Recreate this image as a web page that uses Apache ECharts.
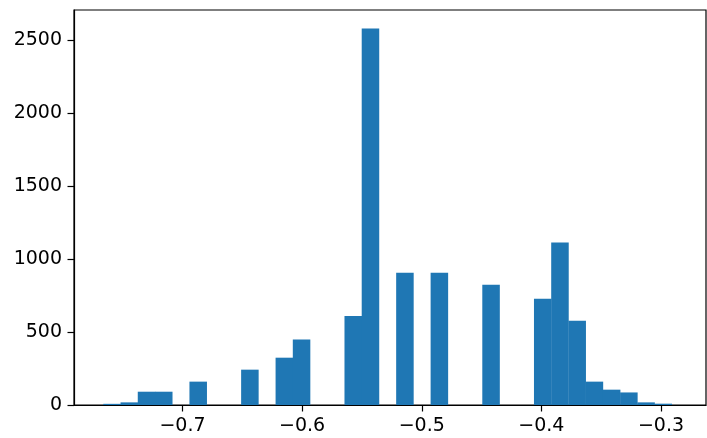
<!DOCTYPE html>
<html>
<head>
<meta charset="utf-8">
<script src="https://cdn.jsdelivr.net/npm/echarts@6/dist/echarts.min.js"></script>
<style>html,body{margin:0;padding:0;background:#fff}#c{width:707px;height:438px}</style>
</head>
<body>
<div id="c"></div>
<script>
// Histogram: 33 equal bins from binStart with width binWidth
const binStart = -0.7662;
const binWidth = 0.0144;
const counts = [8, 18, 91, 91, 0, 160, 0, 0, 242, 0, 324, 448, 0, 0, 610, 2578, 0, 905, 0, 905, 0, 0, 823, 0, 0, 727, 1112, 577, 160, 105, 86, 18, 9];
const xTicks = [-0.7, -0.6, -0.5, -0.4, -0.3];
const yTicks = [0, 500, 1000, 1500, 2000, 2500];

const data = counts.map((c, i) => [binStart + i * binWidth, binStart + (i + 1) * binWidth, c]);

const chart = echarts.init(document.getElementById('c'), null, {renderer: 'canvas'});
const font = 'DejaVu Sans';
chart.setOption({
  animation: false,
  grid: {left: 74, right: 1, top: 10, bottom: 33, show: true, borderColor: '#000', borderWidth: 1.2, backgroundColor: 'transparent'},
  xAxis: {
    type: 'value', min: -0.7907, max: -0.2624,
    splitLine: {show: false},
    axisLine: {show: true, onZero: false, lineStyle: {color: '#000', width: 1.2}},
    axisTick: {show: true, length: 6.5, lineStyle: {color: '#000', width: 1.2}, customValues: xTicks},
    axisLabel: {customValues: xTicks, color: '#000', fontFamily: font, fontSize: 19, margin: 12,
      formatter: v => (v < 0 ? '\u2212' : '') + Math.abs(v).toFixed(1)}
  },
  yAxis: {
    type: 'value', min: 0, max: 2705,
    splitLine: {show: false},
    axisLine: {show: true, lineStyle: {color: '#000', width: 1.2}},
    axisTick: {show: true, length: 6.5, lineStyle: {color: '#000', width: 1.2}, customValues: yTicks},
    axisLabel: {customValues: yTicks, color: '#000', fontFamily: font, fontSize: 19, margin: 12,
      formatter: v => String(v)}
  },
  series: [{
    type: 'custom',
    data: data,
    encode: {x: [0, 1], y: 2},
    renderItem: function (params, api) {
      const p0 = api.coord([api.value(0), 0]);
      const p1 = api.coord([api.value(1), api.value(2)]);
      return {
        type: 'rect',
        shape: {x: p0[0], y: p1[1], width: p1[0] - p0[0] + 0.3, height: p0[1] - p1[1]},
        style: {fill: '#1f77b4'}
      };
    }
  }]
});
</script>
</body>
</html>
